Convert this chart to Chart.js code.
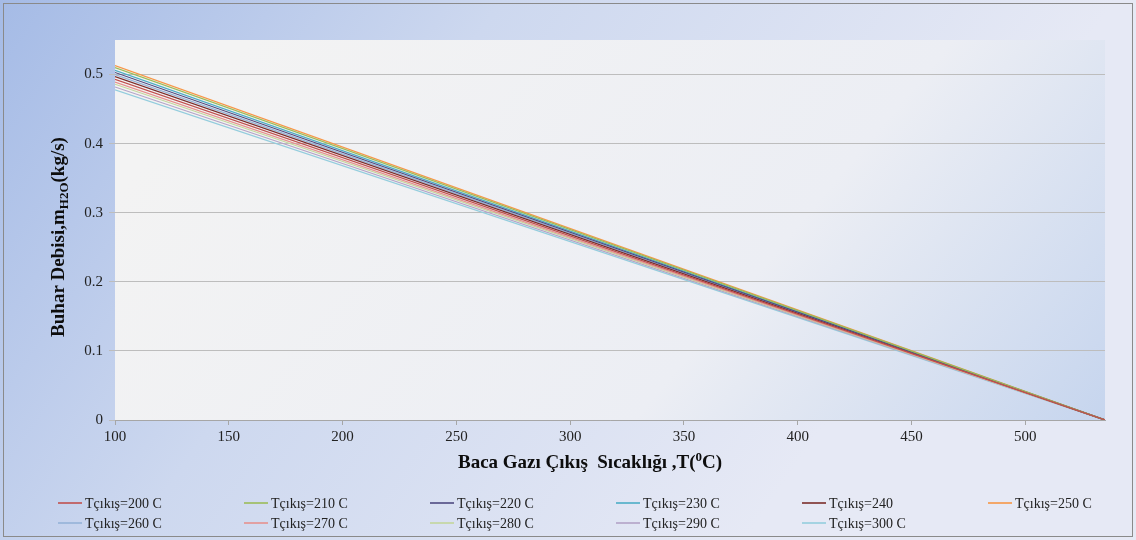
<!DOCTYPE html>
<html>
<head>
<meta charset="utf-8">
<script src="https://cdn.jsdelivr.net/npm/chart.js@4"></script>
<style>
  html, body { margin: 0; padding: 0; background: #ffffff; }
  #wrap { width: 1136px; height: 540px; }
</style>
</head>
<body>
<div id="wrap"><canvas id="grafico" width="1136" height="540"></canvas></div>
<script>
// Datos (recta entre T=100 y T=535)
const xValores = [100, 535];
const etiquetas = ['Tçıkış=200 C', 'Tçıkış=210 C', 'Tçıkış=220 C', 'Tçıkış=230 C', 'Tçıkış=240', 'Tçıkış=250 C',
                   'Tçıkış=260 C', 'Tçıkış=270 C', 'Tçıkış=280 C', 'Tçıkış=290 C', 'Tçıkış=300 C'];
const inicio = [0.493, 0.510, 0.503, 0.506, 0.497, 0.513, 0.500, 0.489, 0.486, 0.482, 0.478];
const fin = [0, 0, 0, 0, 0, 0, 0, 0, 0, 0, 0];
const colores = ['#c0504d', '#9bbb59', '#4f4a80', '#4bacc6', '#7a2c2a', '#f79646',
                 '#95b3d7', '#e6918e', '#c3d69b', '#b3a2c7', '#93cddd'];
const yTicks = [0, 0.1, 0.2, 0.3, 0.4, 0.5];
const xTicks = [100, 150, 200, 250, 300, 350, 400, 450, 500];

const serif = '"Liberation Serif", "Times New Roman", serif';

const datasets = etiquetas.map(function (lbl, i) {
    return {
        label: lbl,
        data: xValores.map(function (x, k) { return { x: x, y: k === 0 ? inicio[i] : fin[i] }; }),
        borderColor: colores[i],
        backgroundColor: colores[i],
        borderWidth: 1.2,
        pointRadius: 0,
        tension: 0
    };
});

// Fondo, marco, títulos y leyenda
const decoracion = {
    id: 'decoracion',
    beforeDraw: function (chart) {
        const c = chart.ctx;
        const a = chart.chartArea;
        c.save();
        let g = c.createLinearGradient(0, 0, 760, 520);
        g.addColorStop(0, '#a5bbe6');
        g.addColorStop(0.45, '#cdd8ef');
        g.addColorStop(1, '#e6e9f5');
        c.fillStyle = g;
        c.fillRect(0, 0, chart.width, chart.height);
        c.strokeStyle = '#8a8a8a';
        c.lineWidth = 1;
        c.strokeRect(3.5, 3.5, chart.width - 7, chart.height - 7);

        let p = c.createLinearGradient(a.left + 300, a.top - 200, a.right, a.bottom);
        p.addColorStop(0, '#f3f3f3');
        p.addColorStop(0.6, '#eceef4');
        p.addColorStop(1, '#c6d5ee');
        c.fillStyle = p;
        c.fillRect(a.left, a.top, a.right - a.left, a.bottom - a.top);
        c.restore();
    },
    afterDraw: function (chart) {
        const c = chart.ctx;
        c.save();
        c.fillStyle = '#0d0d0d';

        // título eje Y con subíndice
        c.translate(58, 237);
        c.rotate(-Math.PI / 2);
        const fB = 'bold 19px ' + serif;
        const fS = 'bold 13px ' + serif;
        const partes = [['Buhar Debisi,m', fB, 0], ['H2O', fS, 4], ['(kg/s)', fB, 0]];
        let total = 0;
        partes.forEach(function (p) { c.font = p[1]; total += c.measureText(p[0]).width; });
        let px = -total / 2;
        c.textBaseline = 'alphabetic';
        c.textAlign = 'left';
        partes.forEach(function (p) {
            c.font = p[1];
            c.fillText(p[0], px, 6 + p[2]);
            px += c.measureText(p[0]).width;
        });
        c.setTransform(1, 0, 0, 1, 0, 0);

        // título eje X con superíndice
        const partesX = [['Baca Gazı Çıkış  Sıcaklığı ,T(', fB, 0], ['0', fS, -7], ['C)', fB, 0]];
        total = 0;
        partesX.forEach(function (p) { c.font = p[1]; total += c.measureText(p[0]).width; });
        px = 590 - total / 2;
        partesX.forEach(function (p) {
            c.font = p[1];
            c.fillText(p[0], px, 468 + p[2]);
            px += c.measureText(p[0]).width;
        });

        // leyenda en 6 columnas
        c.font = '14px ' + serif;
        c.textBaseline = 'middle';
        chart.data.datasets.forEach(function (ds, i) {
            const col = i % 6;
            const fila = Math.floor(i / 6);
            const x0 = 58 + col * 186;
            const y0 = 503 + fila * 20;
            c.strokeStyle = ds.borderColor;
            c.lineWidth = 1.6;
            c.beginPath();
            c.moveTo(x0, y0);
            c.lineTo(x0 + 24, y0);
            c.stroke();
            c.fillStyle = '#222';
            c.fillText(ds.label, x0 + 27, y0 + 1);
        });
        c.restore();
    }
};

new Chart(document.getElementById('grafico'), {
    type: 'line',
    data: { datasets: datasets },
    options: {
        responsive: false,
        animation: false,
        layout: { padding: { left: 0, top: 40, right: 31, bottom: 0 } },
        plugins: {
            legend: { display: false },
            tooltip: { enabled: false }
        },
        scales: {
            x: {
                type: 'linear',
                min: 100,
                max: 535,
                afterFit: function (s) { s.height = 120; },
                afterBuildTicks: function (s) { s.ticks = xTicks.map(function (v) { return { value: v }; }); },
                ticks: {
                    color: '#222',
                    font: { family: serif, size: 15 },
                    padding: 3,
                    maxRotation: 0
                },
                grid: { display: true, drawOnChartArea: false, drawTicks: true, tickLength: 5, color: '#a6a6a6' },
                border: { display: true, color: '#a6a6a6' }
            },
            y: {
                min: 0,
                max: 0.55,
                afterFit: function (s) { s.width = 115; },
                afterBuildTicks: function (s) { s.ticks = yTicks.map(function (v) { return { value: v }; }); },
                ticks: {
                    color: '#222',
                    font: { family: serif, size: 15 },
                    padding: 6,
                    callback: function (v) { return v === 0 ? '0' : v.toFixed(1); }
                },
                grid: { color: '#bdbdbd', tickLength: 6 },
                border: { display: false }
            }
        }
    },
    plugins: [decoracion]
});
</script>
</body>
</html>
